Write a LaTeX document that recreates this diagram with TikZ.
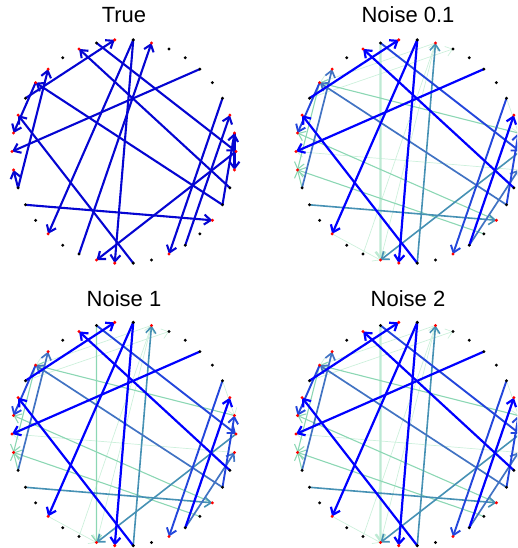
\documentclass[tikz,border=0pt]{standalone}
\usepackage{fontspec}
\setmainfont{Liberation Sans}
\usetikzlibrary{arrows.meta}
\definecolor{trueblue}{RGB}{5,5,210}
\definecolor{sblue}{RGB}{0,0,255}
\definecolor{rblue}{RGB}{35,70,220}
\definecolor{stblue}{RGB}{65,115,195}
\definecolor{tealb}{RGB}{70,145,180}
\definecolor{lgreen}{RGB}{140,215,180}
\definecolor{pgreen}{RGB}{190,234,212}
\definecolor{fgreen}{RGB}{205,240,220}
\begin{document}
\begin{tikzpicture}[x=1pt,y=1pt,
  tip/.style={-{Straight Barb[length=6.5pt,width=10pt]}},
  tedge/.style={tip,draw=trueblue,line width=2.1pt},
  estrong/.style={tip,draw=sblue,line width=2.2pt},
  eroyal/.style={tip,draw=rblue,line width=1.9pt},
  esteel/.style={tip,draw=stblue,line width=1.7pt},
  eteal/.style={tip,draw=tealb,line width=1.6pt},
  egreen/.style={tip,draw=lgreen,line width=1.1pt},
  epale/.style={tip,draw=pgreen,line width=2.2pt},
  efaint/.style={tip,draw=fgreen,line width=0.7pt},
  dot/.style={circle,fill=black,inner sep=0pt,minimum size=3.3pt},
  rdot/.style={circle,fill=red,inner sep=0pt,minimum size=3.3pt},
  title/.style={font=\fontsize{22}{26}\selectfont,anchor=base}]
\useasboundingbox (0,0) rectangle (517,548);
\clip (0,0) rectangle (517,548);
% node positions: 38 points on a circle of radius 112
\foreach \p/\cx/\cy in {A/124/396.5,B/408/396.5,C/124/114,D/408/114}{
  \foreach \k in {0,...,37}{
    \coordinate (\p\k) at ({\cx+112*cos(\k*360/38)},{\cy+112*sin(\k*360/38)});
  }
}
% titles
\node[title] (tA) at (124,525.5) {True};
\node[title] (tB) at (408,525.5) {Noise 0.1};
\node[title] (tC) at (124,241) {Noise 1};
\node[title] (tD) at (408,241) {Noise 2};
% true network
\foreach \s/\t in {16/10,11/0,36/12,21/14,35/15,15/18,29/17,5/19,21/20,9/24,9/28,26/8,22/34,0/27,3/31,32/2,35/1,1/37}
  \draw[tedge] (A\s) -- (A\t);
% estimated networks
\foreach \p/\v in {B/epale,C/egreen,D/epale}{
  \foreach \s/\t in {37/19,16/7,26/8,24/27,8/27,8/15,3/1}
    \draw[efaint] (\p\s) -- (\p\t);
  \draw[\v] (\p11) -- (\p27);
  \foreach \s/\t in {1/15,34/18,33/20,21/20,15/20}
    \draw[egreen] (\p\s) -- (\p\t);
  \foreach \s/\t in {29/8,22/34,0/27}
    \draw[eteal] (\p\s) -- (\p\t);
  \foreach \s/\t in {21/14,35/15,32/37}
    \draw[esteel] (\p\s) -- (\p\t);
  \foreach \s/\t in {15/18,3/31,35/1,11/0}
    \draw[eroyal] (\p\s) -- (\p\t);
  \foreach \s/\t in {16/10,36/12,5/19,9/24,9/28,32/2,29/17}
    \draw[estrong] (\p\s) -- (\p\t);
}
% dots
\foreach \p in {A,B,C,D}{
  \foreach \k in {3,4,5,6,7,9,11,13,16,21,22,23,25,26,29,30,32,33,35,36}
    \node[dot] (d\p\k) at (\p\k) {};
  \foreach \k in {0,1,2,8,10,12,14,15,17,18,19,20,24,27,28,31,34,37}
    \node[rdot] (d\p\k) at (\p\k) {};
}
\end{tikzpicture}
\end{document}
